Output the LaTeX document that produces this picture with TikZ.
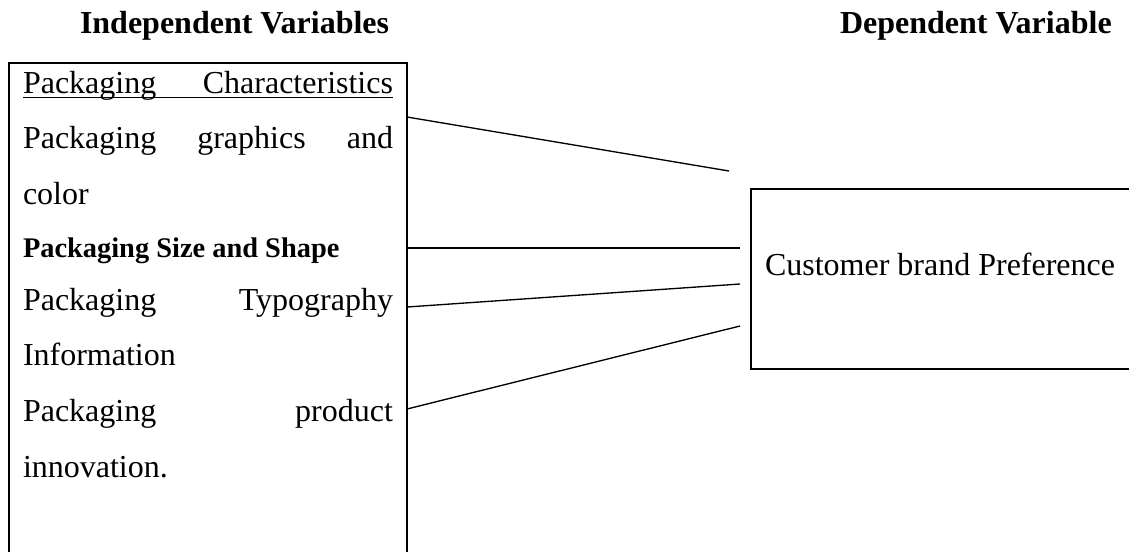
\documentclass[tikz,border=0pt]{standalone}
\usepackage{fontspec}
\setmainfont{Liberation Serif}
\begin{document}
\begin{tikzpicture}[x=0.75pt,y=-0.75pt,
  every node/.style={inner sep=0pt,outer sep=0pt,font=\fontsize{24}{28}\selectfont},
  title/.style={anchor=base west,font=\fontsize{24}{28}\selectfont\bfseries},
  boxline/.style={draw,line width=1.4pt,rectangle,anchor=north west},
  itemline/.style={anchor=base west},
  link/.style={line width=1pt}]
\useasboundingbox (0,0) rectangle (1129,551);
\clip (0,0) rectangle (1129,551);
% titles
\node[title] (tiv) at (80,33) {Independent Variables};
\node[title] (tdv) at (840,33) {Dependent Variable};
% boxes
\node[boxline,minimum width=298.5pt,minimum height=390pt] (ivbox) at (9,63) {};
\node[boxline,minimum width=330pt,minimum height=135pt] (dvbox) at (751,189) {};
% left box lines
\node[itemline] (l1) at (23,93) {\hbox to 277.5pt{Packaging\hfill Characteristics}};
\draw[line width=0.9pt] ([yshift=-3.6pt]l1.base west) -- ([yshift=-3.6pt]l1.base east);
\node[itemline] (l2) at (23,148) {\hbox to 277.5pt{Packaging\hfill graphics\hfill and}};
\node[itemline] (l3) at (23,204) {color};
\node[itemline,font=\fontsize{21.3}{25}\selectfont\bfseries] (l4) at (23,257) {Packaging Size and Shape};
\node[itemline] (l5) at (23,310) {\hbox to 277.5pt{Packaging\hfill Typography}};
\node[itemline] (l6) at (23,365) {Information};
\node[itemline] (l7) at (23,421) {\hbox to 277.5pt{Packaging\hfill product}};
\node[itemline] (l8) at (23,477) {innovation.};
% right box text
\node[anchor=base west] (dvtext) at (765,275) {Customer brand Preference};
% connectors
\coordinate (s1) at (ivbox.east |- 0,117);
\coordinate (s2) at (ivbox.east |- 0,248);
\coordinate (s3) at (ivbox.east |- 0,307);
\coordinate (s4) at (ivbox.east |- 0,409);
\coordinate (e1) at (729,171);
\coordinate (e2) at (740,248);
\coordinate (e3) at (740,284);
\coordinate (e4) at (740,326);
\draw[link] (s1) -- (e1);
\draw[link] (s2) -- (e2);
\draw[link] (s3) -- (e3);
\draw[link] (s4) -- (e4);
\end{tikzpicture}
\end{document}
